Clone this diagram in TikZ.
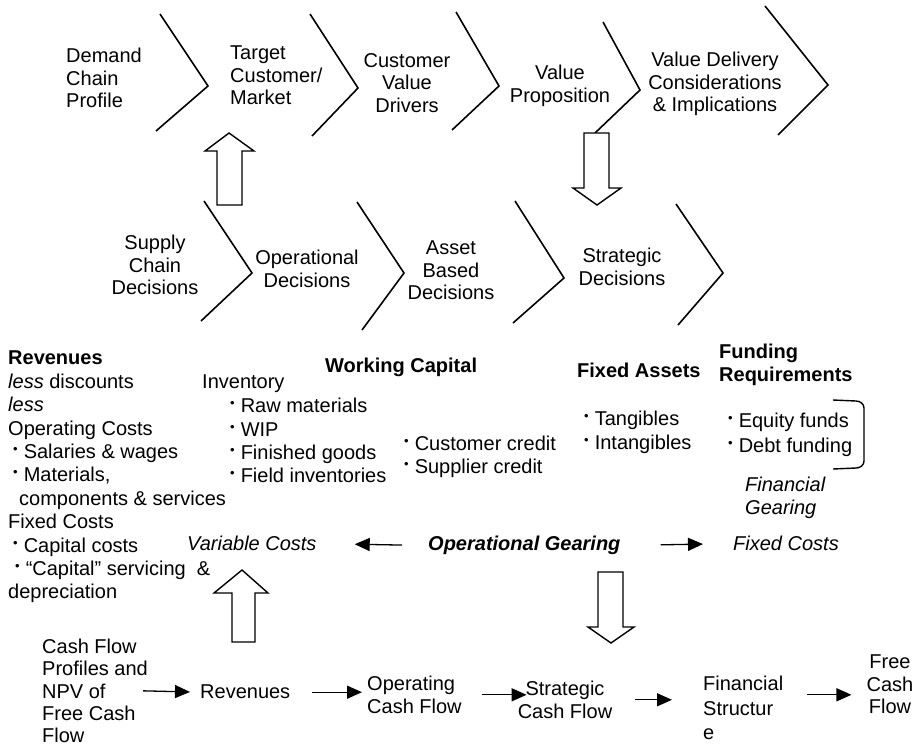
\documentclass[tikz,border=0pt]{standalone}
\usepackage{fontspec}
\setmainfont{Liberation Sans}
\usetikzlibrary{positioning,arrows.meta}

\newcommand{\bul}{{\fontsize{13}{13}\selectfont\raisebox{5pt}{•}}\hspace{6pt}}

\begin{document}
\begin{tikzpicture}[x=1pt, y=-1pt, inner sep=0pt, font=\fontsize{20}{22.5}\selectfont]
    % Define styles
    \tikzstyle{chev} = [line width=1.6pt, line join=miter]
    \tikzstyle{blockarrow} = [draw, line width=1.4pt, fill=white, line join=miter]
    \tikzstyle{txt} = [anchor=north, align=center]
    \tikzstyle{txtl} = [anchor=north west, align=left]
    \tikzstyle{flow} = [-{Triangle[length=15pt,width=13pt]}, line width=1.3pt]

    \useasboundingbox (0,0) rectangle (920,748);

    % DEMAND CHAIN (top row)
    \draw[chev] (160,14) -- (208,86) -- (156,131);
    \draw[chev] (310,14) -- (358,88) -- (312,136);
    \draw[chev] (456,12) -- (499,86) -- (452,130);
    \draw[chev] (603,22) -- (640,90) -- (595,133);
    \draw[chev] (765,6) -- (828,85) -- (778,135);

    \node (demand_profile) [txtl] at (66,48) {Demand\\Chain\\Profile};
    \node (target_market) [txtl] at (230,46) {Target\\Customer/\\Market};
    \node (value_drivers) [txt] at (407,53) {Customer\\Value\\Drivers};
    \node (value_prop) [txt] at (560,65) {Value\\Proposition};
    \node (value_delivery) [txt] at (715,52) {Value Delivery\\Considerations\\\& Implications};

    % SUPPLY CHAIN (second row)
    \draw[chev] (204,201) -- (252,273) -- (201,321);
    \draw[chev] (357,202) -- (404,273) -- (362,330);
    \draw[chev] (515,201) -- (564,278) -- (513,323);
    \draw[chev] (676,204) -- (723,273) -- (678,325);

    \node (supply_decisions) [txt] at (155,235) {Supply\\Chain\\Decisions};
    \node (operational_decisions) [txt] at (307,250) {Operational\\Decisions};
    \node (asset_decisions) [txt] at (451,241) {Asset\\Based\\Decisions};
    \node (strategic_decisions) [txt] at (622,248) {Strategic\\Decisions};

    % Block arrows between rows
    \draw[blockarrow] (217,205) -- (217,151) -- (205,151) -- (229,133) -- (254,151) -- (242,151) -- (242,205) -- cycle;
    \draw[blockarrow] (584,133) -- (584,188) -- (573,188) -- (597,205) -- (621,188) -- (609,188) -- (609,133) -- cycle;

    % FINANCIAL ITEMS
    \node (revenues_costs) [txtl, font=\fontsize{20}{23.4}\selectfont] at (8,351) {%
        \textbf{Revenues}\\
        \textit{less} discounts\\
        \textit{less}\\
        Operating Costs\\
        \hspace*{5pt}\bul Salaries \& wages\\
        \hspace*{5pt}\bul Materials,\\
        \hspace*{11pt}components \& services\\
        Fixed Costs\\
        \hspace*{5pt}\bul Capital costs\\
        \hspace*{7pt}\bul “Capital” servicing \ \&\\
        depreciation};

    \node (inventory) [txtl] at (202,375) {Inventory};
    \node (inventory_items) [txtl, font=\fontsize{20}{23.3}\selectfont] at (230,398) {%
        \bul Raw materials\\ \bul WIP\\ \bul Finished goods\\ \bul Field inventories};

    \node (working_capital) [txtl] at (325,358) {\textbf{Working Capital}};
    \node (credit_items) [txtl] at (404,436) {\bul Customer credit\\ \bul Supplier credit};

    \node (fixed_assets) [txtl] at (577,363) {\textbf{Fixed Assets}};
    \node (asset_items) [txtl, font=\fontsize{20}{24}\selectfont] at (584,411) {\bul Tangibles\\ \bul Intangibles};

    \node (funding) [txtl] at (719,344) {\textbf{Funding}\\ \textbf{Requirements}};
    \node (funding_items) [txtl, font=\fontsize{20}{25}\selectfont] at (728,413) {\bul Equity funds\\ \bul Debt funding};
    \draw[line width=1.4pt] (833,400) -- (856,401) to[out=0,in=90] (864,408) -- (864,461) to[out=-90,in=0] (856,468) -- (833,469);
    \node (financial_gearing) [txtl] at (745,477) {\textit{Financial}\\ \textit{Gearing}};

    % GEARING
    \node (var_costs) [txtl] at (187,536) {\textit{Variable Costs}};
    \node (op_gearing) [txtl] at (428,536) {\textbf{\textit{Operational Gearing}}};
    \node (fixed_costs) [txtl] at (733,536) {\textit{Fixed Costs}};

    \draw[flow, shorten <=26pt, shorten >=38pt] (op_gearing.west) -- (var_costs.east);
    \draw[flow, shorten <=40pt, shorten >=30pt] (op_gearing.east) -- (fixed_costs.west);

    \draw[blockarrow] (232,642) -- (232,593) -- (214,593) -- (242,570) -- (268,593) -- (255,593) -- (255,642) -- cycle;
    \draw[blockarrow] (598,572) -- (598,627) -- (588,627) -- (611,643) -- (634,627) -- (623,627) -- (623,572) -- cycle;

    % CASH FLOW (bottom row)
    \node (cash_profile) [txtl, font=\fontsize{20}{22.2}\selectfont] at (42,639) {Cash Flow\\Profiles and\\NPV of\\Free Cash\\Flow};
    \node (revenues) [txtl] at (200,685) {Revenues};
    \node (op_cash) [txtl] at (367,676) {Operating\\Cash Flow};
    \node (strat_cash) [txt] at (565,681) {Strategic\\Cash Flow};
    \node (fin_struct) [txtl, font=\fontsize{20}{24.5}\selectfont] at (703,676) {Financial\\Structur\\e};
    \node (free_cash) [txt] at (890,655) {Free\\Cash\\Flow};

    \draw[flow, shorten <=-5pt, shorten >=10pt] (cash_profile.east) -- (revenues.west);
    \draw[flow, shorten <=22pt, shorten >=5pt] (revenues.east) -- (op_cash.west |- revenues.east);
    \draw[flow, shorten <=20pt, shorten >=-9pt] (op_cash.east) -- (strat_cash.west |- op_cash.east);
    \draw[flow, shorten <=23pt, shorten >=31pt] (strat_cash.east) -- (fin_struct.west |- strat_cash.east);
    \draw[flow, shorten <=24pt, shorten >=15pt] (fin_struct.east |- op_cash) -- (free_cash.west |- op_cash);

\end{tikzpicture}
\end{document}
